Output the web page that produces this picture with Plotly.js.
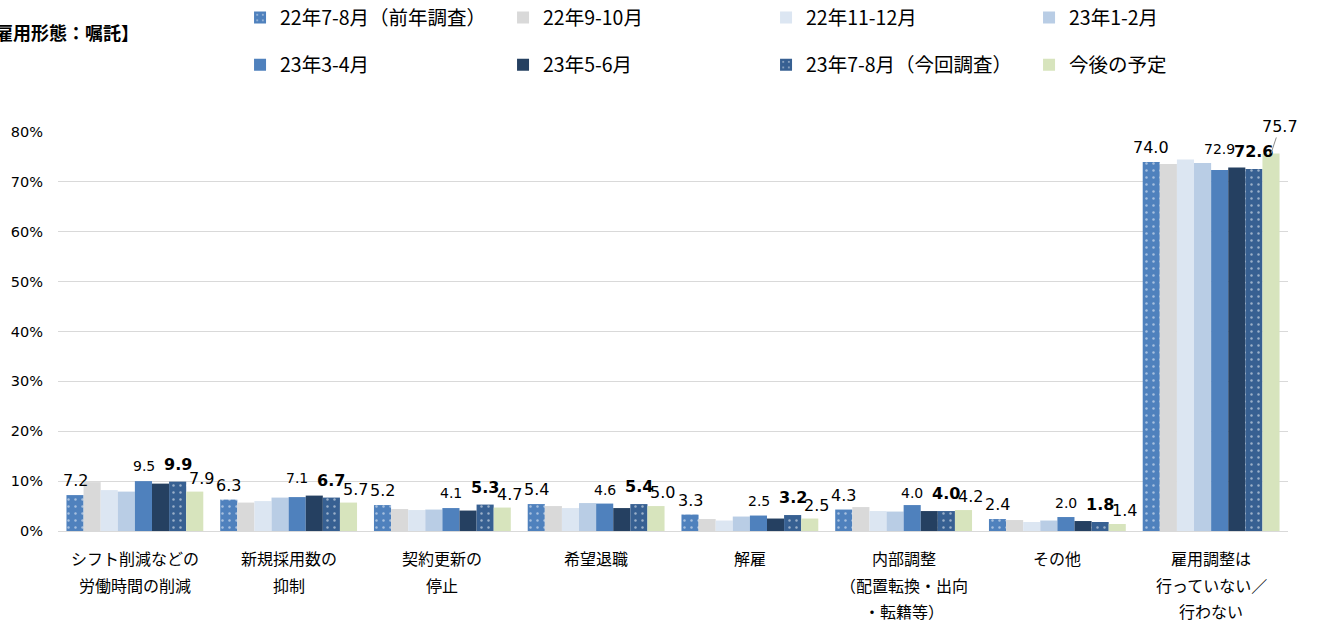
<!DOCTYPE html>
<html>
<head>
<meta charset="utf-8">
<script src="https://cdn.plot.ly/plotly-3.0.1.min.js"></script>
<style>html,body{margin:0;padding:0;background:#fff;}#chart{width:1318px;height:625px;}</style>
</head>
<body>
<div id="chart"></div>
<script>
// ---- data ----
const categories = [
  'シフト削減などの<br>労働時間の削減',
  '新規採用数の<br>抑制',
  '契約更新の<br>停止',
  '希望退職',
  '解雇',
  '内部調整<br>（配置転換・出向<br>・転籍等）',
  'その他',
  '雇用調整は<br>行っていない／<br>行わない'
];
const seriesNames = [
  '22年7-8月（前年調査）', '22年9-10月', '22年11-12月', '23年1-2月',
  '23年3-4月', '23年5-6月', '23年7-8月（今回調査）', '今後の予定'
];
const s2207 = [7.2, 6.3, 5.2, 5.4, 3.3, 4.3, 2.4, 74.0];
const s2209 = [9.8, 5.7, 4.4, 5.0, 2.4, 4.8, 2.2, 73.6];
const s2211 = [8.2, 6.0, 4.2, 4.6, 2.1, 4.0, 1.8, 74.5];
const s2301 = [7.9, 6.7, 4.3, 5.6, 2.9, 3.9, 2.1, 73.8];
const s2303 = [10.0, 6.8, 4.6, 5.5, 3.1, 5.2, 2.8, 72.4];
const s2305 = [9.5, 7.1, 4.1, 4.6, 2.5, 4.0, 2.0, 72.9];
const s2307 = [9.9, 6.7, 5.3, 5.4, 3.2, 4.0, 1.8, 72.6];
const sPlan = [7.9, 5.7, 4.7, 5.0, 2.5, 4.2, 1.4, 75.7];
const yTickVals = [0, 10, 20, 30, 40, 50, 60, 70, 80];

// ---- styling ----
const colors = ['#4F81BD', '#D9D9D9', '#DCE6F2', '#B9CDE5', '#4F81BD', '#254061', '#376092', '#D7E4BD'];
const values = [s2207, s2209, s2211, s2301, s2303, s2305, s2307, sPlan];
const numFont = 'DejaVu Sans, Noto Sans CJK JP, sans-serif';
const jpFont = 'Noto Sans CJK JP, sans-serif';
const fmt = v => v.toFixed(1);

const W = 1318, H = 625;
const margin = {l: 58, r: 30, t: 132, b: 94};
const bargap = 0.11;
const nSeries = values.length;
const plotW = W - margin.l - margin.r;
const barW = plotW / categories.length * (1 - bargap) / nSeries;

// which series carry value labels, and how they are styled
const labelStyle = {
  0: {size: 16, bold: false, dx: 0, dy: 3},
  5: {size: 14, bold: false, dx: -17, dy: 8},
  6: {size: 16, bold: true, dx: 0, dy: 6},
  7: {size: 16, bold: false, dx: 7, dy: 2}
};

const traces = values.map((v, i) => {
  const tr = {
    type: 'bar',
    name: seriesNames[i],
    x: categories,
    y: v,
    marker: {color: colors[i], line: {width: 0}},
    legend: i < 4 ? 'legend' : 'legend2',
    hoverinfo: 'name+y',
    textposition: 'none'
  };
  if (i === 0 || i === 6) {
    tr.marker.pattern = {shape: '.', fgcolor: '#ffffff', bgcolor: colors[i], size: 7, solidity: 0.1, fillmode: 'overlay'};
  }
  return tr;
});

const annotations = [];
Object.keys(labelStyle).forEach(k => {
  const i = +k, st = labelStyle[k];
  const center = (i - (nSeries - 1) / 2) * barW;
  values[i].forEach((val, j) => {
    const txt = st.bold ? '<b>' + fmt(val) + '</b>' : fmt(val);
    const isLast = (i === nSeries - 1 && j === categories.length - 1);
    const a = {
      x: categories[j], y: val, xref: 'x', yref: 'y',
      text: txt,
      font: {family: numFont, size: st.size, color: '#000'},
      xshift: center + (isLast ? 0 : st.dx),
      yshift: isLast ? 0 : st.dy,
      yanchor: 'bottom', xanchor: 'center',
      showarrow: false
    };
    if (isLast) {
      Object.assign(a, {showarrow: true, arrowhead: 0, arrowwidth: 1, arrowcolor: '#8c8c8c',
        ax: 9, ay: -27, yanchor: 'middle', standoff: 0});
    }
    annotations.push(a);
  });
});

// category labels (multi-line, drawn at each category position under the axis)
const catLineGap = 26.5;
categories.forEach(c => {
  c.split('<br>').forEach((line, k) => {
    annotations.push({
      x: c, y: 0, xref: 'x', yref: 'y',
      text: line,
      yshift: -(27 + k * catLineGap),
      xanchor: 'center', yanchor: 'middle',
      showarrow: false,
      font: {family: jpFont, size: 16, color: '#000'}
    });
  });
});

annotations.push({
  text: '<b>【雇用形態：嘱託】</b>',
  xref: 'paper', yref: 'paper',
  x: (141 - margin.l) / plotW, y: 1.2506,
  xanchor: 'right', yanchor: 'middle',
  showarrow: false,
  font: {family: jpFont, size: 18, color: '#000'}
});

const legendCommon = {
  orientation: 'h',
  xanchor: 'left',
  yanchor: 'middle',
  x: 0.148,
  entrywidth: 218,
  entrywidthmode: 'pixels',
  font: {family: jpFont, size: 19.5, color: '#000'},
  bgcolor: 'rgba(0,0,0,0)',
  traceorder: 'normal'
};

const layout = {
  width: W,
  height: H,
  margin: Object.assign({autoexpand: false}, margin),
  paper_bgcolor: '#ffffff',
  plot_bgcolor: '#ffffff',
  barmode: 'group',
  bargap: bargap,
  bargroupgap: 0,
  showlegend: true,
  legend: Object.assign({}, legendCommon, {y: 1.286}),
  legend2: Object.assign({}, legendCommon, {y: 1.168}),
  xaxis: {
    type: 'category',
    range: [-0.5, categories.length - 0.5],
    autorange: false,
    showticklabels: false,
    showgrid: false,
    showline: true,
    linecolor: '#d9d9d9',
    ticks: ''
  },
  yaxis: {
    range: [0, 80],
    autorange: false,
    tickvals: yTickVals,
    ticktext: yTickVals.map(v => v + '%'),
    tickfont: {family: numFont, size: 14.5, color: '#000'},
    showgrid: true,
    gridcolor: '#d9d9d9',
    gridwidth: 1,
    zeroline: true,
    zerolinecolor: '#d9d9d9',
    showline: false,
    ticks: '',
    ticklabelstandoff: 14
  },
  annotations: annotations
};

Plotly.newPlot('chart', traces, layout, {displayModeBar: false, responsive: false});
</script>
</body>
</html>
